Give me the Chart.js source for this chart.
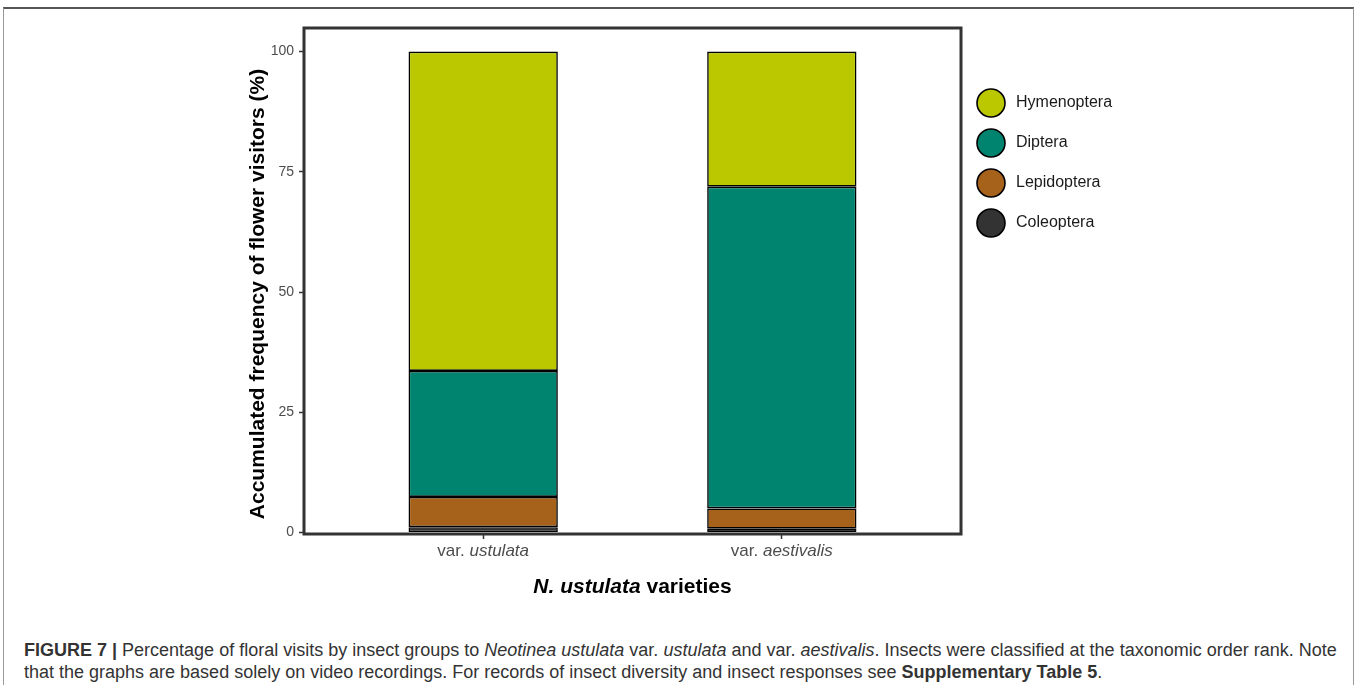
<!DOCTYPE html>
<html>
<head>
<meta charset="utf-8">
<script src="https://cdn.jsdelivr.net/npm/chart.js@4.4.1/dist/chart.umd.min.js"></script>
<style>
  html, body { margin: 0; padding: 0; background: #fff; }
  #fig { position: relative; width: 1357px; height: 685px; overflow: hidden;
         font-family: "Liberation Sans", Arial, Helvetica, sans-serif; }
  #frame { position: absolute; left: 3px; top: 7px; width: 1351px; height: 720px;
           border-top: 2px solid #555; border-left: 1px solid #999; border-right: 1px solid #999;
           box-sizing: border-box; }
  #wrap { position: absolute; left: 0; top: 0; width: 1357px; height: 610px; }
  #caption { position: absolute; left: 24px; top: 639px; width: 1325px;
             font-size: 18px; line-height: 22px; color: #333; white-space: nowrap; }
</style>
</head>
<body>
<div id="fig">
  <div id="frame"></div>
  <div id="wrap"><canvas id="chart"></canvas></div>
  <div id="caption"><b>FIGURE 7 |</b> Percentage of floral visits by insect groups to <i>Neotinea ustulata</i> var. <i>ustulata</i> and var. <i>aestivalis</i>. Insects were classified at the taxonomic order rank. Note<br>that the graphs are based solely on video recordings. For records of insect diversity and insect responses see <b>Supplementary Table 5</b>.</div>
</div>
<script>
// Varieties on the x axis ("var." prefix is upright, the epithet italic)
const varietyPrefix = 'var. ';
const varieties = ['ustulata', 'aestivalis'];

// Insect orders, stacked bottom to top
const orders = ['Coleoptera', 'Lepidoptera', 'Diptera', 'Hymenoptera'];
const orderColors = ['#333333', '#A6611A', '#00846F', '#BBC800'];

// Accumulated frequency (%) per variety
const coleoptera  = [1.1, 0.8];
const lepidoptera = [6.3, 4.2];
const diptera     = [26.2, 66.9];
const hymenoptera = [66.4, 28.1];

const yTicks = [0, 25, 50, 75, 100];

const seriesValues = [coleoptera, lepidoptera, diptera, hymenoptera];

const datasets = orders.map((name, k) => ({
  label: name,
  stack: 'visits',
  data: seriesValues[k].map((v, i) => ({ x: i + 1, y: v })),
  backgroundColor: orderColors[k],
  borderColor: '#000',
  borderWidth: 1.6,
  borderSkipped: false,
  categoryPercentage: 1,
  barPercentage: 0.5
}));

const FONT = '"Liberation Sans", Arial, Helvetica, sans-serif';

const decorations = {
  id: 'decorations',
  afterDatasetsDraw(chart) {
    const { ctx, chartArea: a, scales } = chart;
    ctx.save();
    // panel border
    ctx.strokeStyle = '#333';
    ctx.lineWidth = 3;
    ctx.strokeRect(a.left, a.top, a.right - a.left, a.bottom - a.top);

    // x tick labels with italic epithets
    ctx.fillStyle = '#4d4d4d';
    ctx.textBaseline = 'middle';
    varieties.forEach((name, i) => {
      const cx = scales.x.getPixelForValue(i + 1);
      ctx.font = '17px ' + FONT;
      const w1 = ctx.measureText(varietyPrefix).width;
      ctx.font = 'italic 17px ' + FONT;
      const w2 = ctx.measureText(name).width;
      const x = cx - (w1 + w2) / 2;
      ctx.textAlign = 'left';
      ctx.font = '17px ' + FONT;
      ctx.fillText(varietyPrefix, x, 551);
      ctx.font = 'italic 17px ' + FONT;
      ctx.fillText(name, x + w1, 551);
    });

    // x axis title
    ctx.fillStyle = '#000';
    const t1 = 'N. ustulata', t2 = ' varieties';
    ctx.font = 'bold italic 21px ' + FONT;
    const tw1 = ctx.measureText(t1).width;
    ctx.font = 'bold 21px ' + FONT;
    const tw2 = ctx.measureText(t2).width;
    const tx = (a.left + a.right) / 2 - (tw1 + tw2) / 2;
    ctx.font = 'bold italic 21px ' + FONT;
    ctx.fillText(t1, tx, 587);
    ctx.font = 'bold 21px ' + FONT;
    ctx.fillText(t2, tx + tw1, 587);

    // y axis title
    ctx.save();
    ctx.translate(258, 294);
    ctx.rotate(-Math.PI / 2);
    ctx.textAlign = 'center';
    ctx.font = 'bold 21px ' + FONT;
    ctx.fillText('Accumulated frequency of flower visitors (%)', 0, 0);
    ctx.restore();

    // legend, top of stack first
    const ly = [103, 143, 183, 223];
    for (let j = 0; j < orders.length; j++) {
      const k = orders.length - 1 - j;
      ctx.beginPath();
      ctx.arc(991, ly[j], 14, 0, Math.PI * 2);
      ctx.fillStyle = orderColors[k];
      ctx.fill();
      ctx.lineWidth = 1.6;
      ctx.strokeStyle = '#000';
      ctx.stroke();
      ctx.fillStyle = '#1a1a1a';
      ctx.font = '16px ' + FONT;
      ctx.textAlign = 'left';
      ctx.textBaseline = 'middle';
      ctx.fillText(orders[k], 1016, ly[j]);
    }
    ctx.restore();
  }
};

new Chart(document.getElementById('chart'), {
  type: 'bar',
  data: { datasets },
  options: {
    responsive: true,
    maintainAspectRatio: false,
    animation: false,
    layout: { padding: { left: 0, right: 396, top: 28, bottom: 0 } },
    plugins: { legend: { display: false }, tooltip: { enabled: false } },
    scales: {
      x: {
        type: 'linear',
        min: 0.4,
        max: 2.6,
        offset: false,
        stacked: true,
        afterBuildTicks: s => { s.ticks = varieties.map((_, i) => ({ value: i + 1 })); },
        afterFit: s => { s.height = 76; },
        ticks: { display: false },
        grid: { display: true, offset: false, drawOnChartArea: false, drawTicks: true, tickLength: 5, tickColor: '#333', tickWidth: 1.5 },
        border: { display: false }
      },
      y: {
        stacked: true,
        min: -0.31,
        max: 104.9,
        afterBuildTicks: s => { s.ticks = yTicks.map(v => ({ value: v })); },
        afterFit: s => { s.width = 304; },
        ticks: { color: '#4d4d4d', font: { family: FONT, size: 14 }, padding: 5 },
        grid: { display: true, drawOnChartArea: false, drawTicks: true, tickLength: 5, tickColor: '#333', tickWidth: 1.5 },
        border: { display: false }
      }
    }
  },
  plugins: [decorations]
});
</script>
</body>
</html>
